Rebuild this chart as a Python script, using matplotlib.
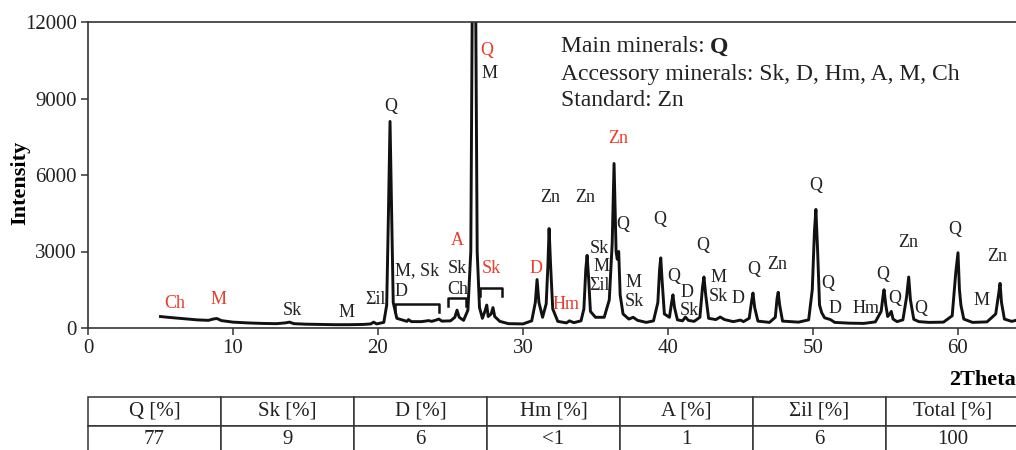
import matplotlib
matplotlib.use("Agg")
import matplotlib.pyplot as plt

plt.rcParams['font.family'] = ['Liberation Serif', 'DejaVu Serif']

# diffractogram trace (2Theta, counts)
two_theta = [5.0, 5.5, 6.5, 7.5, 8.3, 8.7, 8.9, 9.2, 10, 11, 12, 13, 13.6, 13.9, 14.2, 15, 16, 17, 18,
             19, 19.5, 19.7, 19.9, 20.4, 20.6, 20.72, 20.83, 20.94, 21.05, 21.3, 22.0, 22.1, 22.3, 23.0,
             23.5, 23.7, 24.0, 24.2, 24.4, 25.0, 25.3, 25.45, 25.6, 25.9, 26.2, 26.4, 26.5, 26.62, 26.74,
             26.84, 27.0, 27.2, 27.4, 27.5, 27.6, 27.8, 27.93, 28.05, 28.4, 29.0, 30.0, 30.6, 30.85, 30.97,
             31.1, 31.35, 31.6, 31.72, 31.8, 31.9, 32.05, 32.4, 33.0, 33.2, 33.5, 34.0, 34.2, 34.33, 34.42,
             34.52, 34.65, 35.0, 35.6, 35.95, 36.15, 36.28, 36.42, 36.5, 36.6, 36.7, 36.9, 37.3, 37.6, 37.9,
             38.5, 39.0, 39.3, 39.42, 39.5, 39.6, 39.75, 40.1, 40.25, 40.34, 40.45, 40.65, 41.0, 41.2, 41.4,
             41.8, 42.2, 42.38, 42.48, 42.6, 42.8, 43.3, 43.6, 43.9, 44.5, 45.0, 45.2, 45.6, 45.78, 45.86,
             45.98, 46.2, 47.0, 47.4, 47.52, 47.6, 47.7, 47.9, 49.0, 49.7, 49.95, 50.1, 50.2, 50.32, 50.45,
             50.6, 50.8, 51.2, 51.5, 52.5, 53.5, 54.3, 54.7, 54.84, 54.9, 55.02, 55.15, 55.3, 55.4, 55.52,
             55.8, 56.2, 56.45, 56.6, 56.72, 56.95, 57.3, 58.0, 59.0, 59.6, 59.85, 60.0, 60.1, 60.2, 60.4,
             61.0, 62.0, 62.6, 62.82, 62.9, 63.0, 63.2, 63.7, 64.0, 64.3]
counts = [450, 420, 370, 320, 300, 360, 370, 290, 230, 200, 180, 170, 200, 230, 170, 150, 140, 130, 130,
          140, 160, 230, 160, 220, 900, 4500, 8100, 4500, 1000, 380, 260, 330, 250, 250,
          290, 260, 310, 350, 270, 280, 420, 700, 420, 300, 700, 3000, 12500, 30000, 12500,
          3000, 800, 380, 700, 900, 450, 550, 800, 450, 260, 170, 160, 280, 1000, 1900,
          1000, 420, 950, 2500, 3900, 2500, 750, 260, 200, 280, 210, 280, 750, 2300, 2850,
          2000, 650, 420, 420, 1100, 3300, 6450, 3000, 2700, 3000, 1300, 550, 350, 420, 300,
          220, 280, 1000, 2300, 2750, 1800, 550, 420, 1000, 1300, 800, 320, 280, 430, 300,
          260, 420, 1600, 2000, 1300, 380, 330, 430, 330, 250, 310, 250, 380, 1100, 1370,
          800, 270, 220, 420, 1150, 1400, 900, 270, 230, 320, 1500, 3800, 4650, 3000, 900,
          600, 400, 330, 220, 190, 180, 240, 650, 1300, 1500, 900, 450, 550, 650, 350,
          250, 320, 1200, 2000, 1100, 340, 250, 220, 230, 480, 2200, 2950, 1500, 900, 350,
          220, 240, 550, 1400, 1750, 1000, 350, 260, 300, 400]

# phase labels: text, 2Theta, intensity
lab_text = ['Ch', 'M', 'Sk', 'M', 'Σil', 'Q', 'M, Sk', 'D', 'A', 'Sk', 'Ch', 'Q', 'M', 'Sk', 'D', 'Hm',
            'Zn', 'Zn', 'Zn', 'Sk', 'M', 'Σil', 'Q', 'M', 'Sk', 'Q', 'Q', 'D', 'Sk', 'Q', 'M', 'Sk',
            'D', 'Q', 'Zn', 'Q', 'Q', 'D', 'Hm', 'Q', 'Q', 'Zn', 'Q', 'Q', 'M', 'Zn']
lab_x = [6.0, 9.0, 14.1, 17.8, 19.8, 20.9, 21.15, 21.15, 25.5, 25.5, 25.5, 27.5, 27.7, 27.8, 30.9, 33.0,
         31.9, 34.3, 36.55, 35.3, 35.4, 35.3, 36.9, 37.6, 37.7, 39.45, 40.4, 41.3, 41.5, 42.4, 43.5, 43.5,
         44.8, 45.9, 47.5, 50.2, 51.0, 51.5, 53.65, 54.8, 55.65, 56.55, 57.45, 59.8, 61.6, 62.7]
lab_y = [980, 1100, 670, 590, 1100, 8670, 2240, 1450, 3450, 2350, 1520, 10900, 10000, 2350, 2350, 940,
         5100, 5100, 7450, 3100, 2400, 1650, 4040, 1800, 1020, 4240, 2000, 1400, 700, 3250, 2000, 1250,
         1140, 2310, 2500, 5570, 1730, 750, 750, 2080, 1140, 3370, 780, 3880, 1060, 2820]
red_idx = [0, 1, 8, 11, 13, 14, 15, 18]
left_idx = [6, 7]

# brackets grouping small reflections: left, right, level
br_left = [21.2, 24.8, 27.0]
br_right = [24.2, 26.1, 28.55]
br_level = [940, 1180, 1570]

# composition table
tab_head = ['Q [%]', 'Sk [%]', 'D [%]', 'Hm [%]', 'A [%]', 'Σil [%]', 'Total [%]']
tab_vals = ['77', '9', '6', '<1', '1', '6', '100']

W, H = 1016, 450
fig = plt.figure(figsize=(W / 100, H / 100), dpi=100)
ax = fig.add_axes([88 / W, 1 - 328 / H, (W - 88) / W, (328 - 22) / H])

ax.plot(two_theta, counts, color='#111111', lw=2.1, solid_joinstyle='round')
ax.set_xlim(0, (W - 88) / 14.5)
ax.set_ylim(0, 12000)
ax.set_xticks([0, 10, 20, 30, 40, 50, 60])
ax.set_yticks([0, 3000, 6000, 9000, 12000])
ax.tick_params(labelsize=15, length=5, width=1.1, color='#333333', pad=3, labelcolor='#222222')
ax.spines['right'].set_visible(False)
for s in ['left', 'bottom', 'top']:
    ax.spines[s].set_linewidth(1.2)
    ax.spines[s].set_color('#333333')

red = '#ee3b2b'
for i, (t, x, y) in enumerate(zip(lab_text, lab_x, lab_y)):
    c = red if i in red_idx else '#222222'
    ha = 'left' if i in left_idx else 'center'
    ax.text(x, y, t, fontsize=13, color=c, ha=ha, va='center')

for l, r, y in zip(br_left, br_right, br_level):
    ax.plot([l, l, r, r], [y - 300, y, y, y - 300], color='#111111', lw=1.8)

# info box
t1 = ax.text(32.6, 11020, 'Main minerals: ', fontsize=17, va='center', ha='left', color='#222222')
ax.annotate('Q', xy=(1, 0), xycoords=t1, va='bottom', ha='left', fontsize=17,
            fontweight='bold', color='#222222')
ax.text(32.6, 9960, 'Accessory minerals: Sk, D, Hm, A, M, Ch', fontsize=17, va='center',
        ha='left', color='#222222')
ax.text(32.6, 8940, 'Standard: Zn', fontsize=17, va='center', ha='left', color='#222222')

fig.text(20 / W, 1 - 183 / H, 'Intensity', rotation=90, fontsize=16, fontweight='bold',
         ha='center', va='center')
fig.text(1.0, 1 - 380 / H, '2Theta', fontsize=16, fontweight='bold', ha='right', va='center')

# table
tax = fig.add_axes([88 / W, -4 / H, (1019 - 88) / W, (450 + 4 - 397) / H])
tax.axis('off')
tb = tax.table(cellText=[tab_head, tab_vals], cellLoc='center', bbox=[0, 0, 1, 1])
tb.auto_set_font_size(False)
for (r, c), cell in tb.get_celld().items():
    cell.set_edgecolor('#333333')
    cell.set_linewidth(1.1)
    cell.get_text().set_fontsize(15)
    cell.get_text().set_color('#222222')

fig.savefig('out.png', dpi=100)
